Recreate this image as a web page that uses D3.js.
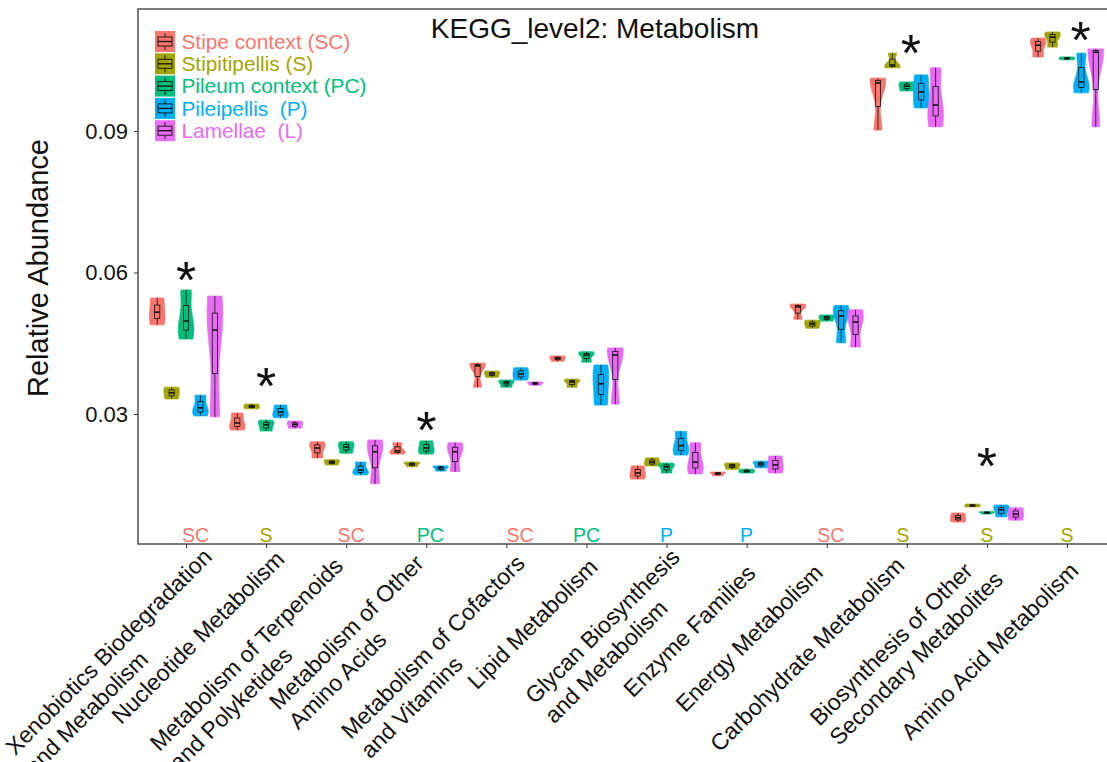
<!DOCTYPE html>
<html><head><meta charset="utf-8">
<script src="https://cdn.jsdelivr.net/npm/d3@7"></script>
<style>
body{margin:0;background:#fff}
text{font-family:"Liberation Sans", Arial, sans-serif}
</style>
</head><body>
<svg id="chart" width="1107" height="762"></svg>
<script>
// ---------- data ----------
const categories = [
  "Xenobiotics Biodegradation\nand Metabolism",
  "Nucleotide Metabolism",
  "Metabolism of Terpenoids\nand Polyketides",
  "Metabolism of Other\nAmino Acids",
  "Metabolism of Cofactors\nand Vitamins",
  "Lipid Metabolism",
  "Glycan Biosynthesis\nand Metabolism",
  "Enzyme Families",
  "Energy Metabolism",
  "Carbohydrate Metabolism",
  "Biosynthesis of Other\nSecondary Metabolites",
  "Amino Acid Metabolism"
];
const tissues = ["SC", "S", "PC", "P", "L"];
const tissueNames = ["Stipe context (SC)", "Stipitipellis (S)", "Pileum context (PC)", "Pileipellis  (P)", "Lamellae  (L)"];
const tissueColors = ["#F8766D", "#A3A500", "#00BF7D", "#00B0F6", "#E76BF3"];

// replicate relative abundances, one triplet per category
const valuesSC = [[0.0489,0.0516,0.0546],[0.0266,0.0281,0.0302],[0.0207,0.0228,0.0241],[0.0215,0.0222,0.0239],
  [0.0357,0.0402,0.0408],[0.0412,0.0418,0.0423],[0.0162,0.0175,0.0190],[0.0169,0.0174,0.0177],
  [0.0501,0.0527,0.0533],[0.0902,0.1002,0.1012],[0.0071,0.0080,0.0090],[0.1057,0.1082,0.1097]];
const valuesS = [[0.0332,0.0345,0.0357],[0.0311,0.0316,0.0321],[0.0192,0.0198,0.0203],[0.0188,0.0194,0.0198],
  [0.0378,0.0385,0.0391],[0.0357,0.0368,0.0374],[0.0190,0.0198,0.0207],[0.0183,0.0190,0.0196],
  [0.0482,0.0491,0.0499],[0.1034,0.1040,0.1065],[0.0103,0.0106,0.0109],[0.1078,0.1099,0.1110]];
const valuesPC = [[0.0459,0.0497,0.0563],[0.0264,0.0277,0.0287],[0.0217,0.0230,0.0241],[0.0215,0.0228,0.0243],
  [0.0357,0.0366,0.0372],[0.0410,0.0425,0.0432],[0.0175,0.0188,0.0196],[0.0175,0.0179,0.0183],
  [0.0497,0.0504,0.0510],[0.0985,0.0995,0.1004],[0.0088,0.0091,0.0093],[0.1051,0.1054,0.1057]];
const valuesP = [[0.0296,0.0313,0.0340],[0.0292,0.0304,0.0319],[0.0171,0.0181,0.0198],[0.0179,0.0186,0.0190],
  [0.0372,0.0385,0.0398],[0.0319,0.0364,0.0404],[0.0213,0.0233,0.0263],[0.0186,0.0194,0.0200],
  [0.0451,0.0508,0.0530],[0.0949,0.0983,0.1019],[0.0082,0.0097,0.0107],[0.0981,0.1004,0.1065]];
const valuesL = [[0.0294,0.0478,0.0550],[0.0270,0.0278,0.0285],[0.0152,0.0220,0.0245],[0.0178,0.0220,0.0239],
  [0.0361,0.0365,0.0368],[0.0321,0.0425,0.0440],[0.0173,0.0198,0.0239],[0.0175,0.0192,0.0211],
  [0.0442,0.0495,0.0521],[0.0909,0.0955,0.1034],[0.0075,0.0088,0.0101],[0.0909,0.1067,0.1074]];
const seriesValues = [valuesSC, valuesS, valuesPC, valuesP, valuesL];

// tissue with highest abundance per category (label at bottom)
const topTissue = ["SC","S","SC","PC","SC","PC","P","P","SC","S","S","S"];
// significance stars
const starCategory = [0, 1, 3, 9, 10, 11];
const starValue = [0.0601, 0.0376, 0.0283, 0.1082, 0.0207, 0.1110];

const yTicks = [0.03, 0.06, 0.09];
const title = "KEGG_level2: Metabolism";
const yTitle = "Relative Abundance";

// ---------- layout ----------
const svg = d3.select("#chart");
const panel = {left: 138, right: 1115, top: 9, bottom: 544};
// hand-placed nudges seen in the original figure (fractions of a band / pixels)
const topTissueShift = [0.12, 0, 0.06, 0.05, 0.17, 0, 0, 0, 0.05, -0.05, 0, 0];
const starShift = [0, 0, 0, 0.05, 0, 0.17];
const labelNudgeX = [6.5, -1, -22.4, -21.7, -0.9, -8, -6, -10.4, -23, -21.6, -22.6, -7.9];
const labelNudgeY = [-2.5, 0, 6.6, 4, 4, 7.7, -2, 13.9, 13.5, 6.2, 1, 11.6];

const x = d3.scalePoint().domain(d3.range(categories.length))
  .range([panel.left, panel.right]).padding(0.6);
const step = x.step();
const y = d3.scaleLinear().domain([0.00244, 0.11587]).range([panel.bottom, panel.top]);

// panel
svg.append("rect").attr("x", panel.left).attr("y", panel.top)
  .attr("width", panel.right - panel.left).attr("height", panel.bottom - panel.top)
  .attr("fill", "#fff").attr("stroke", "#333").attr("stroke-width", 1.3);

// y axis
const yAxis = svg.append("g").attr("transform", `translate(${panel.left},0)`)
  .call(d3.axisLeft(y).tickValues(yTicks).tickFormat(d3.format(".2f")).tickSize(4).tickPadding(6));
yAxis.select(".domain").remove();
yAxis.selectAll("line").attr("stroke", "#333");
yAxis.selectAll("text").attr("font-size", 22).attr("fill", "#111")
  .style("font-family", '"Liberation Sans", Arial, sans-serif');

// x axis ticks
const xAxis = svg.append("g").attr("transform", `translate(0,${panel.bottom})`)
  .call(d3.axisBottom(x).tickSize(4).tickFormat(""));
xAxis.select(".domain").remove();
xAxis.selectAll("line").attr("stroke", "#333");

// x labels (rotated 45, right-justified block, lines left aligned)
const labFont = 23, labLH = 27.6;
categories.forEach((c, i) => {
  const lines = c.split("\n");
  const ax = x(i) + 9 + labelNudgeX[i], ay = panel.bottom + 5 + labelNudgeY[i];
  const g = svg.append("g").attr("transform", `translate(${ax},${ay}) rotate(-45)`);
  const t = g.append("text").attr("font-size", labFont).attr("fill", "#111");
  const spans = lines.map((l, k) => t.append("tspan").attr("y", 16.5 + k * labLH).text(l));
  const w = d3.max(spans, s => s.node().getComputedTextLength());
  spans.forEach(s => s.attr("x", -w));
});

// violins + boxes
const dodge = step * 0.18;
const vHalf = step * 0.097;
const boxHalf = 2.6;
function bwNrd0(v) {
  const sd = d3.deviation(v);
  const iqr = d3.quantile(v, 0.75) - d3.quantile(v, 0.25);
  let lo = Math.min(sd, iqr / 1.34);
  if (!lo) lo = sd || 1e-4;
  return 0.9 * lo * Math.pow(v.length, -0.2);
}
const plotG = svg.append("g");
seriesValues.forEach((series, ti) => {
  series.forEach((vals, ci) => {
    const v = vals.slice().sort(d3.ascending);
    const cx = x(ci) + (ti - 2) * dodge;
    const bw = bwNrd0(v);
    const lo = v[0], hi = v[v.length - 1];
    const N = 120;
    const pts = d3.range(N + 1).map(k => {
      const t = lo + (hi - lo) * k / N;
      const dens = d3.sum(v, s => Math.exp(-0.5 * ((t - s) / bw) ** 2));
      return {t, dens};
    });
    const mx = d3.max(pts, p => p.dens);
    const area = d3.area().y(p => y(p.t))
      .x0(p => cx - vHalf * p.dens / mx).x1(p => cx + vHalf * p.dens / mx);
    plotG.append("path").attr("d", area(pts)).attr("fill", tissueColors[ti])
      .attr("stroke", tissueColors[ti]).attr("stroke-width", 0.8).attr("stroke-linejoin", "round");
    const q1 = d3.quantile(v, 0.25), med = d3.quantile(v, 0.5), q3 = d3.quantile(v, 0.75);
    const bg = plotG.append("g").attr("stroke", "#111").attr("fill", "none");
    bg.append("line").attr("x1", cx).attr("x2", cx).attr("y1", y(hi)).attr("y2", y(q3)).attr("stroke-width", 0.8);
    bg.append("line").attr("x1", cx).attr("x2", cx).attr("y1", y(q1)).attr("y2", y(lo)).attr("stroke-width", 0.8);
    bg.append("rect").attr("x", cx - boxHalf).attr("width", boxHalf * 2)
      .attr("y", y(q3)).attr("height", Math.max(0.5, y(q1) - y(q3))).attr("stroke-width", 0.8);
    bg.append("line").attr("x1", cx - boxHalf).attr("x2", cx + boxHalf).attr("y1", y(med)).attr("y2", y(med)).attr("stroke-width", 1.6);
  });
});

// top tissue labels
topTissue.forEach((tt, i) => {
  svg.append("text").attr("x", x(i) + topTissueShift[i] * step).attr("y", panel.bottom - 2.5)
    .attr("text-anchor", "middle").attr("font-size", 19.5)
    .attr("fill", tissueColors[tissues.indexOf(tt)]).text(tt);
});

// stars
starCategory.forEach((ci, k) => {
  svg.append("text").attr("x", x(ci) + starShift[k] * step).attr("y", y(starValue[k]) + 26)
    .attr("text-anchor", "middle").attr("font-size", 52).attr("fill", "#111").text("*");
});

// legend
const leg = svg.append("g").attr("transform", "translate(155,30.5)");
tissueNames.forEach((n, i) => {
  const gy = i * 22.3;
  leg.append("rect").attr("x", 0).attr("y", gy + 0.5).attr("width", 20).attr("height", 21)
    .attr("fill", tissueColors[i]);
  leg.append("line").attr("x1", 10).attr("x2", 10).attr("y1", gy + 2.5).attr("y2", gy + 19.5)
    .attr("stroke", "#111").attr("stroke-width", 0.9);
  leg.append("rect").attr("x", 3).attr("y", gy + 6.5).attr("width", 14).attr("height", 9)
    .attr("fill", tissueColors[i]).attr("stroke", "#111").attr("stroke-width", 0.9);
  leg.append("line").attr("x1", 3).attr("x2", 17).attr("y1", gy + 11).attr("y2", gy + 11)
    .attr("stroke", "#111").attr("stroke-width", 1.3);
  leg.append("text").attr("x", 26.5).attr("y", gy + 11).attr("dy", "0.35em")
    .attr("font-size", 20.8).attr("fill", tissueColors[i])
    .style("white-space", "pre").text(n);
});

// title
svg.append("text").attr("x", 595).attr("y", 38).attr("text-anchor", "middle")
  .attr("font-size", 28).attr("fill", "#111").text(title);

// y title
svg.append("text").attr("transform", "translate(48,268) rotate(-90)")
  .attr("text-anchor", "middle").attr("font-size", 29).attr("fill", "#111").text(yTitle);
</script>
</body></html>
